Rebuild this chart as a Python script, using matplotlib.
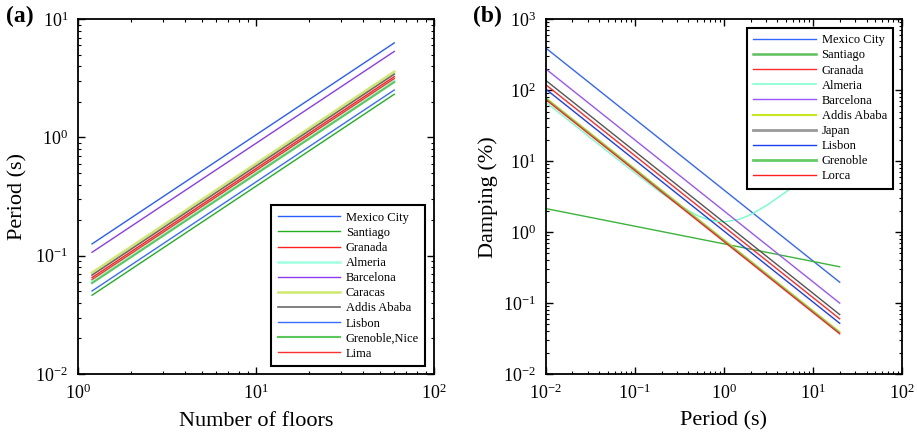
import matplotlib
matplotlib.use("Agg")
import matplotlib.pyplot as plt
from matplotlib.ticker import LogLocator, NullFormatter

plt.rcParams['font.family'] = ['Liberation Serif', 'DejaVu Serif']
plt.rcParams['mathtext.fontset'] = 'custom'
plt.rcParams['mathtext.rm'] = 'Liberation Serif'
plt.rcParams['mathtext.it'] = 'Liberation Serif:italic'
plt.rcParams['mathtext.bf'] = 'Liberation Serif:bold'

# ---------------- Panel (a) data ----------------
floors = [1.2, 60]
cities_a = ["Mexico City", "Santiago", "Granada", "Almeria", "Barcelona",
            "Caracas", "Addis Ababa", "Lisbon", "Grenoble,Nice", "Lima"]
period_start = [0.126, 0.0464, 0.0654, 0.0606, 0.107, 0.072, 0.0686, 0.0504, 0.0588, 0.063]
period_end = [6.3, 2.32, 3.27, 3.03, 5.34, 3.60, 3.43, 2.52, 2.94, 3.15]
colors_a = ["#2a5cff", "#22b022", "#ff2020", "#a0ffe0", "#8a3cf0",
            "#cfe870", "#6a6a6a", "#3a6cff", "#5cc85c", "#ff3030"]
widths_a = [1.0, 1.0, 1.0, 1.8, 1.0, 1.8, 1.2, 1.0, 1.5, 1.0]

# ---------------- Panel (b) data ----------------
period_b = [0.01, 20]
cities_b = ["Mexico City", "Santiago", "Granada", "Almeria", "Barcelona",
            "Addis Ababa", "Japan", "Lisbon", "Grenoble", "Lorca"]
damp_start = [394, 2.15, 120, None, 200, 79, 138, 104, 77, 74]
damp_end = [0.197, 0.325, 0.060, None, 0.100, 0.0395, 0.069, 0.052, 0.0385, 0.037]
almeria_T = [0.01, 0.02, 0.05, 0.1, 0.2, 0.3, 0.5, 0.7, 1.0, 1.5, 2, 3, 5, 7, 10, 20]
almeria_D = [68.0, 34.0, 13.6, 6.87, 3.54, 2.48, 1.72, 1.47, 1.39, 1.52, 1.76, 2.36, 3.69, 5.07, 7.17, 14.2]
colors_b = ["#3366ff", "#3cb43c", "#ff2a2a", "#70ffcc", "#9955ff",
            "#c8e61e", "#555555", "#1a3ff0", "#66cc66", "#ff2020"]
widths_b = [1.0, 1.0, 1.0, 1.0, 1.0, 1.0, 1.0, 1.0, 1.0, 1.0]
legend_widths_b = [1.0, 1.8, 1.0, 1.2, 1.0, 1.5, 2.0, 1.0, 2.0, 1.0]
colors_b_leg = ["#3366ff", "#5cc05c", "#ff2a2a", "#80ffd0", "#9955ff",
                "#c8e61e", "#999999", "#1a3ff0", "#66cc66", "#ff2020"]

fig = plt.figure(figsize=(9.17, 4.36), dpi=100)
ax1 = fig.add_axes([0.085, 0.142, 0.388, 0.814])
ax2 = fig.add_axes([0.595, 0.142, 0.3886, 0.814])

for name, s, e, c, w in zip(cities_a, period_start, period_end, colors_a, widths_a):
    ax1.plot(floors, [s, e], color=c, lw=w, label=name)

ax1.set_xscale('log')
ax1.set_yscale('log')
ax1.set_xlim(1, 100)
ax1.set_ylim(0.01, 10)
ax1.set_xlabel("Number of floors", fontsize=16, labelpad=6)
ax1.set_ylabel("Period (s)", fontsize=16, labelpad=6)

handles_b = []
for i, (name, c, w) in enumerate(zip(cities_b, colors_b, widths_b)):
    if damp_start[i] is None:
        ax2.plot(almeria_T, almeria_D, color=c, lw=w)
    else:
        ax2.plot(period_b, [damp_start[i], damp_end[i]], color=c, lw=w)
    h, = ax2.plot([], [], color=colors_b_leg[i], lw=legend_widths_b[i], label=name)
    handles_b.append(h)

ax2.set_xscale('log')
ax2.set_yscale('log')
ax2.set_xlim(0.01, 100)
ax2.set_ylim(0.01, 1000)
ax2.set_xlabel("Period (s)", fontsize=16, labelpad=6)
ax2.set_ylabel("Damping (%)", fontsize=16, labelpad=4)

for ax in (ax1, ax2):
    ax.tick_params(which='both', direction='in', top=True, right=True, labelsize=13)
    ax.tick_params(which='major', length=5, width=1, pad=7)
    ax.tick_params(which='minor', length=2.5, width=0.8)
    ax.xaxis.set_major_locator(LogLocator(base=10, numticks=10))
    ax.yaxis.set_major_locator(LogLocator(base=10, numticks=10))
    ax.xaxis.set_minor_locator(LogLocator(base=10, subs=range(2, 10), numticks=20))
    ax.yaxis.set_minor_locator(LogLocator(base=10, subs=range(2, 10), numticks=20))
    ax.xaxis.set_minor_formatter(NullFormatter())
    ax.yaxis.set_minor_formatter(NullFormatter())
    for sp in ax.spines.values():
        sp.set_linewidth(1.3)

leg1 = ax1.legend(loc='lower right', bbox_to_anchor=(0.976, 0.0225), borderaxespad=0,
                  fontsize=9, handlelength=5.0, handletextpad=0.45, labelspacing=0.25,
                  fancybox=False, framealpha=1, edgecolor='black', borderpad=0.5)
leg1.get_frame().set_linewidth(1.5)
leg2 = ax2.legend(handles=handles_b, loc='upper right', bbox_to_anchor=(0.975, 0.975),
                  borderaxespad=0, fontsize=9, handlelength=5.0, handletextpad=0.45,
                  labelspacing=0.25, fancybox=False, framealpha=1, edgecolor='black',
                  borderpad=0.5)
leg2.get_frame().set_linewidth(1.5)

fig.text(0.007, 0.962, "(a)", fontsize=17, fontweight='bold', va='center', ha='left')
fig.text(0.516, 0.962, "(b)", fontsize=17, fontweight='bold', va='center', ha='left')

fig.savefig("out.png", dpi=100)
